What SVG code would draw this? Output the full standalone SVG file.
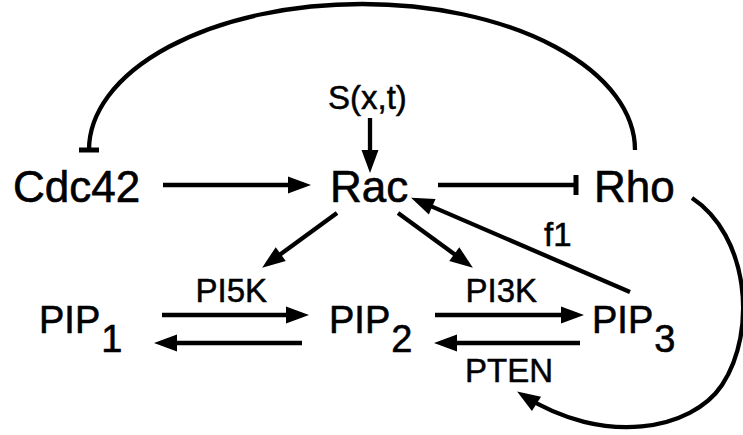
<svg xmlns="http://www.w3.org/2000/svg" width="743" height="435" viewBox="0 0 743 435">
<style>
.big{font-family:"Liberation Sans",Arial,sans-serif;font-size:44px;fill:#000;stroke:#000;stroke-width:0.6}
.pip{font-family:"Liberation Sans",Arial,sans-serif;font-size:38px;fill:#000;stroke:#000;stroke-width:0.6}
.lbl{font-family:"Liberation Sans",Arial,sans-serif;font-size:33px;fill:#000;stroke:#000;stroke-width:0.5}
.ln{stroke:#000;stroke-width:4.3;fill:none}
.act{marker-end:url(#arr)}
.inh{marker-end:url(#bar)}
</style>
<defs>
<marker id="arr" markerUnits="userSpaceOnUse" markerWidth="24" markerHeight="18" refX="16" refY="8.5" orient="auto" overflow="visible">
<path d="M0,0 L23,8.5 L0,17 Z" fill="#000"/>
</marker>
<marker id="bar" markerUnits="userSpaceOnUse" markerWidth="6" markerHeight="22" refX="2.5" refY="10" orient="auto" overflow="visible">
<rect x="0" y="0" width="5" height="20" fill="#000"/>
</marker>
</defs>
<g id="connectors">
<path class="ln inh" d="M635,150 A273,146 0 0 0 89,150" stroke-width="3.6"/>
<line class="ln act" x1="370" y1="118" x2="370" y2="166"/>
<line class="ln act" x1="163" y1="185" x2="304" y2="185"/>
<line class="ln inh" x1="438" y1="185" x2="576" y2="185"/>
<line class="ln act" x1="337" y1="213" x2="267.8" y2="263.5"/>
<line class="ln act" x1="398" y1="213" x2="467.2" y2="263.5"/>
<line class="ln act" x1="630" y1="292" x2="417.5" y2="200.4"/>
<line class="ln act" x1="162" y1="315" x2="302" y2="315"/>
<line class="ln act" x1="302" y1="343" x2="161" y2="343"/>
<line class="ln act" x1="435" y1="315" x2="577" y2="315"/>
<line class="ln act" x1="580" y1="343" x2="441" y2="343"/>
<path class="ln act" d="M692,198 C748,235 758,330 722,385 C692,430 604,447 523,395.3"/>
</g>
<g id="Cdc42"><text class="big" x="13" y="202">Cdc42</text></g>
<g id="Rac"><text class="big" x="330" y="202">Rac</text></g>
<g id="Rho"><text class="big" x="594" y="202">Rho</text></g>
<g id="S"><text class="lbl" x="328" y="109">S(x,t)</text></g>
<g id="PIP1"><text class="pip" x="39" y="333">PIP<tspan dx="1" dy="19">1</tspan></text></g>
<g id="PIP2"><text class="pip" x="329" y="333">PIP<tspan dx="1" dy="19">2</tspan></text></g>
<g id="PIP3"><text class="pip" x="592" y="333">PIP<tspan dx="1" dy="19">3</tspan></text></g>
<g id="labels">
<text class="lbl" x="195.5" y="302">PI5K</text>
<text class="lbl" x="465.5" y="302">PI3K</text>
<text class="lbl" x="465" y="382">PTEN</text>
<text class="lbl" x="544" y="246" font-size="30">f1</text>
</g>
</svg>
